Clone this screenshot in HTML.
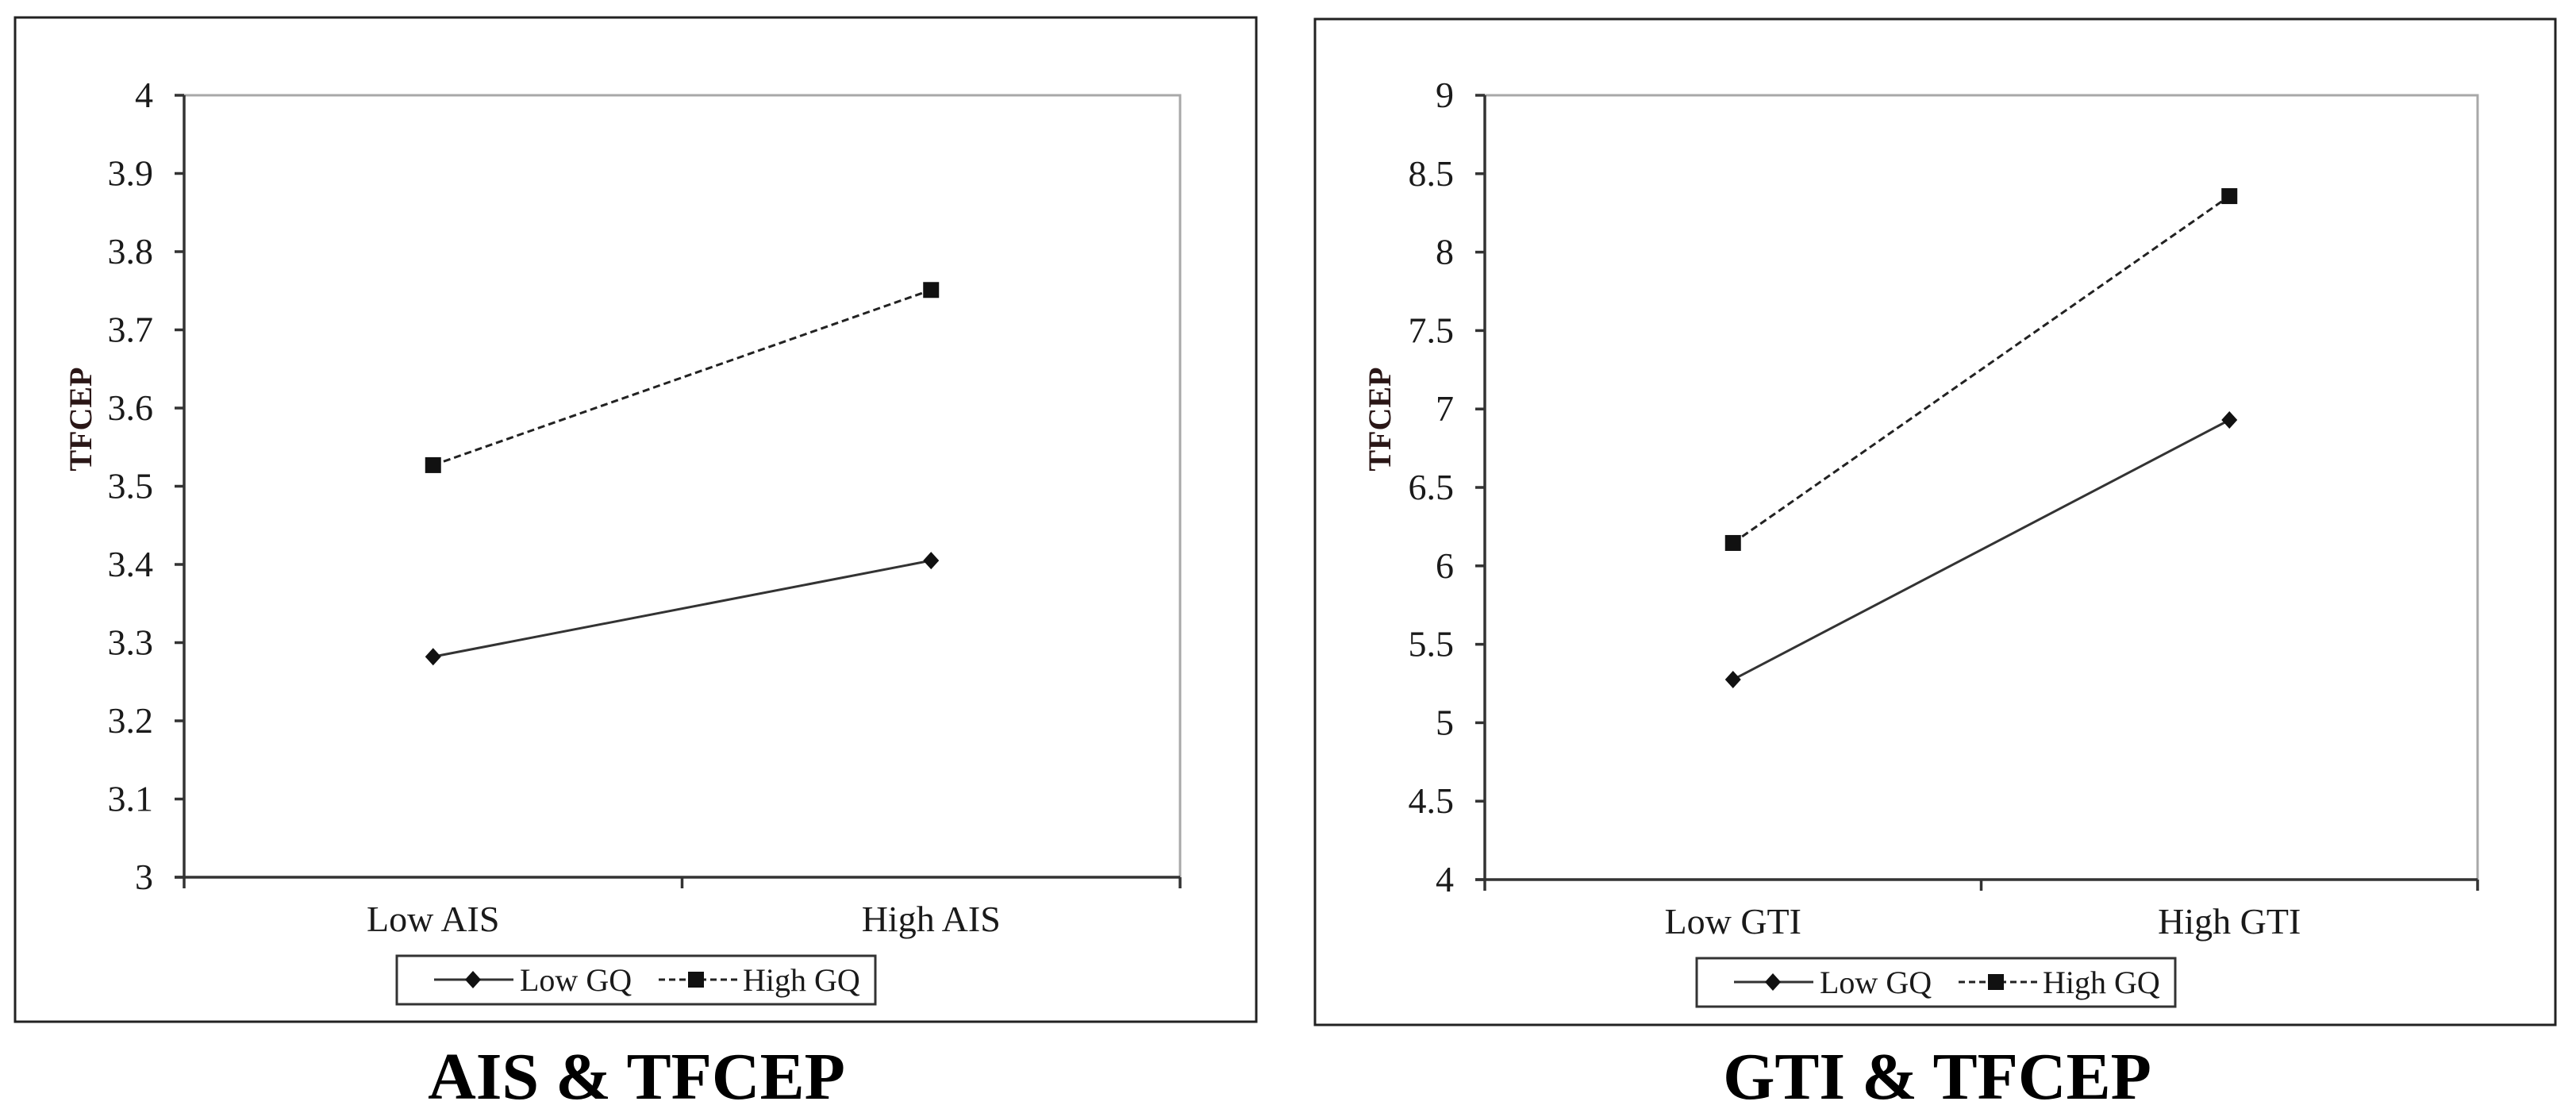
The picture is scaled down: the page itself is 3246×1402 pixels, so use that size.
<!DOCTYPE html>
<html><head><meta charset="utf-8">
<style>
html,body{margin:0;padding:0;background:#fff;}
svg{display:block;}
text{font-family:"Liberation Serif",serif;fill:#1a1a1a;}
</style></head>
<body>
<svg id="chart" width="3246" height="1402" viewBox="0 0 3246 1402" xmlns="http://www.w3.org/2000/svg"></svg>
<script>
// Panel 1 data
const cats1 = ["Low AIS", "High AIS"];
const lowGQ1 = [3.282, 3.405];
const highGQ1 = [3.527, 3.751];
const ticks1 = ["3","3.1","3.2","3.3","3.4","3.5","3.6","3.7","3.8","3.9","4"];
// Panel 2 data
const cats2 = ["Low GTI", "High GTI"];
const lowGQ2 = [5.275, 6.93];
const highGQ2 = [6.146, 8.357];
const ticks2 = ["4","4.5","5","5.5","6","6.5","7","7.5","8","8.5","9"];
const seriesNames = ["Low GQ", "High GQ"];

const NS = "http://www.w3.org/2000/svg";
const svg = document.getElementById("chart");
function mk(tag, attrs, parent){
  const e = document.createElementNS(NS, tag);
  for (const k in attrs) e.setAttribute(k, attrs[k]);
  (parent||svg).appendChild(e);
  return e;
}

function panel(cfg){
  const g = mk("g", {});
  
  
  const fr = mk("rect", {x:cfg.fx, y:cfg.fy, width:cfg.fw, height:cfg.fh, fill:"none", stroke:"#222", "stroke-width":3}, g);
  
  
  const L=cfg.pl, R=cfg.pr, T=cfg.pt, B=cfg.pb;
  const ymin = parseFloat(cfg.ticks[0]), ymax = parseFloat(cfg.ticks[cfg.ticks.length-1]);
  const yS = v => B - (v - ymin)/(ymax - ymin)*(B - T);
  const xS = i => L + (i + 0.5)*(R - L)/cfg.cats.length;
  const pb = mk("path", {d:`M${L},${T} H${R} V${B}`, fill:"none", stroke:"#a8a8a8", "stroke-width":3}, g);
  
  
  const ya = mk("line", {x1:L, y1:T, x2:L, y2:B, stroke:"#333", "stroke-width":3.5}, g);
  
  
  const xa = mk("line", {x1:L-12, y1:B, x2:R, y2:B, stroke:"#333", "stroke-width":3.5}, g);
  
  
  cfg.ticks.forEach(t => {
    const y = yS(parseFloat(t));
    const tk = mk("line", {x1:L-12, y1:y, x2:L, y2:y, stroke:"#333", "stroke-width":3.5}, g);
    
    
    const tl = mk("text", {x:L-39, y:y+15, "text-anchor":"end", "font-size":46}, g);
    tl.textContent = t;
    
    
  });
  for (let i=0;i<=cfg.cats.length;i++){
    const x = L + i*(R-L)/cfg.cats.length;
    const tk = mk("line", {x1:x, y1:B, x2:x, y2:B+14, stroke:"#333", "stroke-width":3.5}, g);
    
    
  }
  cfg.cats.forEach((c,i) => {
    const tl = mk("text", {x:xS(i), y:B+68, "text-anchor":"middle", "font-size":46}, g);
    tl.textContent = c;
    
    
  });
  const yt = mk("text", {x:0, y:0, "text-anchor":"middle", "font-size":40, "font-weight":"bold", transform:`translate(${cfg.ytx},${cfg.yty}) rotate(-90)`}, g);
  yt.textContent = "TFCEP";
  yt.style.fill = "#2a1616";
  
  
  const lowPts = cfg.low.map((v,i)=>[xS(i), yS(v)]);
  const highPts = cfg.high.map((v,i)=>[xS(i), yS(v)]);
  const l1 = mk("polyline", {points:lowPts.map(p=>p.join(",")).join(" "), fill:"none", stroke:"#333", "stroke-width":3}, g);
  
  
  const l2 = mk("polyline", {points:highPts.map(p=>p.join(",")).join(" "), fill:"none", stroke:"#222", "stroke-width":3, "stroke-dasharray":"9,5"}, g);
  
  
  lowPts.forEach(p => {
    const d = mk("polygon", {points:`${p[0]},${p[1]-11} ${p[0]+10},${p[1]} ${p[0]},${p[1]+11} ${p[0]-10},${p[1]}`, fill:"#111"}, g);
    
    
  });
  highPts.forEach(p => {
    const s = mk("rect", {x:p[0]-10, y:p[1]-10, width:20, height:20, fill:"#111"}, g);
    
    
  });
  const lg = mk("g", {}, g);
  
  
  const lx = cfg.lx, ly = cfg.ly;
  mk("rect", {x:lx, y:ly, width:603, height:61, fill:"#fff", stroke:"#333", "stroke-width":3}, lg);
  const cy = ly+30;
  const e1 = mk("g", {}, lg);
  
  
  mk("line", {x1:lx+47, y1:cy, x2:lx+147, y2:cy, stroke:"#333", "stroke-width":3}, e1);
  mk("polygon", {points:`${lx+96},${cy-11} ${lx+106},${cy} ${lx+96},${cy+11} ${lx+86},${cy}`, fill:"#111"}, e1);
  const t1 = mk("text", {x:lx+155, y:cy+14, "font-size":40}, e1);
  t1.textContent = seriesNames[0];
  const e2 = mk("g", {}, lg);
  
  
  mk("line", {x1:lx+330, y1:cy, x2:lx+431, y2:cy, stroke:"#222", "stroke-width":3, "stroke-dasharray":"8,5"}, e2);
  mk("rect", {x:lx+367, y:cy-10, width:20, height:20, fill:"#111"}, e2);
  const t2 = mk("text", {x:lx+436, y:cy+14, "font-size":40}, e2);
  t2.textContent = seriesNames[1];
  const cap = mk("text", {x:cfg.capx, y:1384, "text-anchor":"middle", "font-size":84, "font-weight":"bold"}, g);
  cap.textContent = cfg.caption;
  cap.style.fill = "#000";
  
  
}

panel({name:"ais-tfcep-panel", fx:19, fy:22, fw:1564, fh:1265, pl:232, pr:1487, pt:120, pb:1105,
  ticks:ticks1, cats:cats1, low:lowGQ1, high:highGQ1, ytx:115, yty:528, lx:500, ly:1204, capx:802, caption:"AIS & TFCEP"});
panel({name:"gti-tfcep-panel", fx:1657, fy:24, fw:1563, fh:1267, pl:1871, pr:3122, pt:120, pb:1108,
  ticks:ticks2, cats:cats2, low:lowGQ2, high:highGQ2, ytx:1752, yty:528, lx:2138, ly:1207, capx:2441, caption:"GTI & TFCEP"});
</script>
</body></html>
